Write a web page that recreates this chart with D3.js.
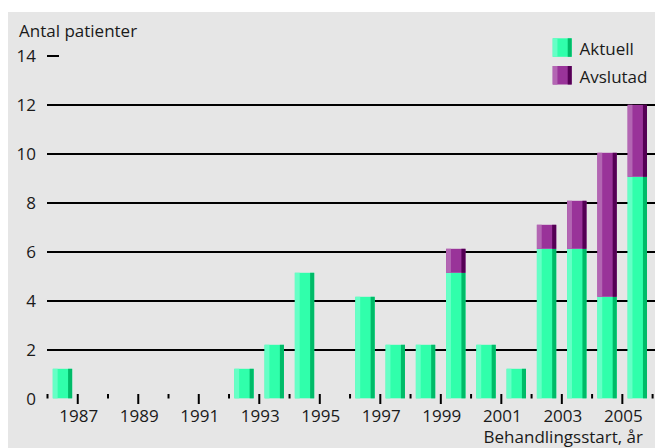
<!DOCTYPE html>
<html>
<head>
<meta charset="utf-8">
<script src="https://cdn.jsdelivr.net/npm/d3@7/dist/d3.min.js"></script>
<style>
html,body{margin:0;padding:0;background:#fff;}
svg{display:block;}
text{font-family:"Open Sans",sans-serif;font-size:17px;fill:#1a1a1a;}
</style>
</head>
<body>
<svg id="chart" width="655" height="448"></svg>
<script>
const years = [1986,1987,1988,1989,1990,1991,1992,1993,1994,1995,1996,1997,1998,1999,2000,2001,2002,2003,2004,2005];
const aktuell = [1,0,0,0,0,0,1,2,5,0,4,2,2,5,2,1,6,6,4,9];
const avslutad = [0,0,0,0,0,0,0,0,0,0,0,0,0,1,0,0,1,2,6,3];
const yTicks = [0,2,4,6,8,10,12,14];
const xTickLabels = ["1987","1989","1991","1993","1995","1997","1999","2001","2003","2005"];
const seriesNames = ["Aktuell","Avslutad"];
const yTitle = "Antal patienter";
const xTitle = "Behandlingsstart, år";

const colors = {
  Aktuell: {light:"#66ffc6", main:"#30ffab", dark:"#00bb68"},
  Avslutad: {light:"#b366b3", main:"#993399", dark:"#550055"}
};

const svg = d3.select("#chart");
svg.append("rect").attr("x",8).attr("y",12).attr("width",647).attr("height",436).attr("fill","#e6e6e6");

const x = d3.scaleLinear().domain([1986,2006]).range([47.5,652.6]);
const y = d3.scaleLinear().domain([0,14]).range([399,56]);
// bars in the source are drawn with a slight lift above the gridline scale
const yBar = d3.scaleLinear().domain([0,14]).range([392.8,56.8]);
const base = 398.3;
const step = x(1987)-x(1986);

// gridlines
const grid = svg.append("g");
yTicks.filter(d=>d>0).forEach(d=>{
  grid.append("line").attr("x1",47).attr("x2", d===14 ? 59 : 655)
    .attr("y1",y(d)).attr("y2",y(d)).attr("stroke","#000").attr("stroke-width",2);
});
// y labels
svg.append("g").selectAll("text").data(yTicks).join("text")
  .attr("x",36).attr("y",d=>y(d)).attr("dy","0.35em").attr("text-anchor","end").text(d=>d);

// x ticks
const xt = d3.range(1986,2007);
svg.append("g").selectAll("line").data(xt).join("line")
  .attr("x1",d=>x(d)).attr("x2",d=>x(d))
  .attr("y1",394).attr("y2",d=>d%2===1?404:398.5)
  .attr("stroke","#000").attr("stroke-width",2);
svg.append("g").selectAll("text").data(xTickLabels).join("text")
  .attr("x",d=>x(+d)+1).attr("y",421.5).attr("text-anchor","middle").text(d=>d);

// bars
function stripedRect(g, x0, w, y0, y1, c){
  const h = y1-y0;
  if (h<=0) return;
  const lw = w*0.25, dw = w*0.21;
  g.append("rect").attr("x",x0).attr("y",y0).attr("width",w).attr("height",h).attr("fill",c.main);
  g.append("rect").attr("x",x0).attr("y",y0).attr("width",lw).attr("height",h).attr("fill",c.light);
  g.append("rect").attr("x",x0+w-dw).attr("y",y0).attr("width",dw).attr("height",h).attr("fill",c.dark);
}
const bars = svg.append("g");
years.forEach((yr,i)=>{
  const x0 = x(yr)+step*0.175, w = step*0.64;
  const g = aktuell[i], p = avslutad[i];
  if (g>0) stripedRect(bars, x0, w, yBar(g), base, colors.Aktuell);
  if (p>0) stripedRect(bars, x0, w, yBar(g+p), g>0?yBar(g):base, colors.Avslutad);
});

// titles
svg.append("text").attr("x",19).attr("y",37.3).text(yTitle);
svg.append("text").attr("x",643).attr("y",443.3).attr("text-anchor","end").text(xTitle);

// legend
const leg = svg.append("g");
seriesNames.forEach((s,i)=>{
  const ly = 38.3 + i*27.7;
  stripedRect(leg, 552.7, 19, ly, ly+18.5, colors[s]);
  leg.append("text").attr("x",579.5).attr("y",ly+16.7).text(s);
});
</script>
</body>
</html>
